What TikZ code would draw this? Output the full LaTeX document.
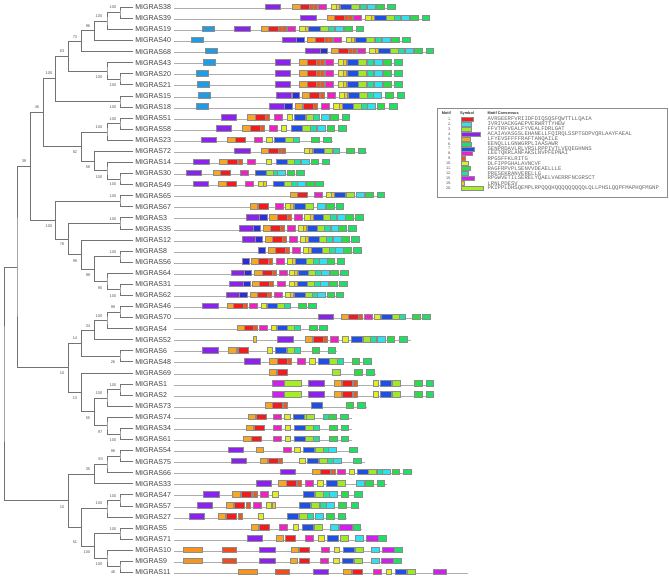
\documentclass[tikz,border=0pt]{standalone}
\usepackage{fontspec}
\setmainfont{Liberation Sans}
\newfontfamily\monof{Liberation Mono}
\usetikzlibrary{calc}
\definecolor{mca}{HTML}{8C22F0}
\definecolor{mcb}{HTML}{F7A823}
\definecolor{mcc}{HTML}{F21C1C}
\definecolor{mcd}{HTML}{EE5A1E}
\definecolor{mce}{HTML}{F21FC4}
\definecolor{mcf}{HTML}{E0EE22}
\definecolor{mcg}{HTML}{F0C81E}
\definecolor{mch}{HTML}{1E50E6}
\definecolor{mci}{HTML}{9FE82A}
\definecolor{mcj}{HTML}{22E0A0}
\definecolor{mck}{HTML}{30E2F0}
\definecolor{mcl}{HTML}{2ADB4A}
\definecolor{mcm}{HTML}{1EE064}
\definecolor{mcn}{HTML}{D020EE}
\definecolor{mco}{HTML}{A6EE22}
\definecolor{mcp}{HTML}{1E9CE6}
\definecolor{mcq}{HTML}{F7941E}
\definecolor{mcr}{HTML}{EE4E1E}
\definecolor{mcs}{HTML}{2B2BE0}
\def\mwa{15.5}\def\mwb{7.5}\def\mwc{10}\def\mwd{4}\def\mwe{8}\def\mwf{5.5}
\def\mwg{3}\def\mwh{11.3}\def\mwi{8}\def\mwj{6}\def\mwk{8}\def\mwl{7.7}
\def\mwm{7.7}\def\mwn{12.7}\def\mwo{17}\def\mwp{12}\def\mwq{19.3}\def\mwr{14.3}\def\mws{7.5}
\tikzset{
 tree/.style={draw=black!55, line width=0.55pt},
 leaf/.style={anchor=west, inner sep=1.5pt, text=black!75, font=\fontsize{5.3pt}{6pt}\selectfont},
 bs/.style={inner sep=0pt, text=black!65, font=\fontsize{3pt}{3.5pt}\selectfont},
 barline/.style={draw=black!32, line width=0.6pt},
 mbox/.style={draw=black!45, line width=0.3pt},
 legbox/.style={draw=black!45, line width=0.5pt},
 lhead/.style={anchor=west, inner sep=0pt, text=black!80, font=\fontsize{2.9pt}{3.2pt}\selectfont\bfseries},
 lnum/.style={anchor=east, inner sep=0pt, text=black!70, font=\fontsize{2.8pt}{3.2pt}\selectfont},
 lseq/.style={anchor=west, inner sep=0pt, text=black!60, font=\fontsize{4.2pt}{4.6pt}\selectfont\monof},
}
\newcommand\leaf[2]{\node[leaf] (L#2) at (133,{7.3+11.08*#1}) {MIGRAS#2};}
\newcommand\inode[4]{\path let \p1=(#3), \p2=(#4) in ({#2*0.75pt},{(\y1+\y2)/2}) coordinate (#1);
 \draw[tree] (#3) -| (#1) |- (#4);}
\newcommand\rowline[2]{\pgfmathsetmacro\ry{7.3+11.08*#1}\draw[barline] (174,\ry+1) -- (#2,\ry+1);}
\newcommand\boxes[3]{\pgfmathsetmacro\ry{7.3+11.08*#1}\foreach \xx/\cc in {#3}{\pgfmathsetmacro\bx{#2+\xx}\filldraw[mbox,fill=mc\cc] (\bx,\ry-3.5) rectangle ++(\csname mw\cc\endcsname,5.5);}}
\newcommand\tc[2]{\boxes{#1}{#2}{0/b,7.7/c,17.2/d,21.2/d,26/e,38.7/f,44.2/g,47.7/h,59.2/i,67.7/j,74.4/k,83.7/l,95/m}}
\begin{document}
\begin{tikzpicture}[x=0.75pt,y=-0.75pt]
\useasboundingbox (0,0) rectangle (669,579);
% leaves
\leaf{0}{38}\leaf{1}{39}\leaf{2}{19}\leaf{3}{40}\leaf{4}{68}\leaf{5}{43}\leaf{6}{20}\leaf{7}{21}
\leaf{8}{15}\leaf{9}{18}\leaf{10}{51}\leaf{11}{58}\leaf{12}{23}\leaf{13}{72}\leaf{14}{14}\leaf{15}{30}
\leaf{16}{49}\leaf{17}{65}\leaf{18}{67}\leaf{19}{3}\leaf{20}{35}\leaf{21}{12}\leaf{22}{8}\leaf{23}{56}
\leaf{24}{64}\leaf{25}{31}\leaf{26}{62}\leaf{27}{46}\leaf{28}{70}\leaf{29}{4}\leaf{30}{52}\leaf{31}{6}
\leaf{32}{48}\leaf{33}{69}\leaf{34}{1}\leaf{35}{2}\leaf{36}{73}\leaf{37}{74}\leaf{38}{34}\leaf{39}{61}
\leaf{40}{54}\leaf{41}{75}\leaf{42}{66}\leaf{43}{33}\leaf{44}{47}\leaf{45}{57}\leaf{46}{27}\leaf{47}{5}
\leaf{48}{71}\leaf{49}{10}\leaf{50}{9}\leaf{51}{11}
% tree
\inode{n1}{120}{L38.west}{L39.west}
\inode{n2}{107}{n1}{L19.west}
\inode{n3}{94.3}{n2}{L40.west}
\inode{n4}{81.7}{n3}{L68.west}
\inode{n5}{120}{L20.west}{L21.west}
\inode{n6}{107}{L43.west}{n5}
\inode{n7}{68.3}{n4}{n6}
\inode{n8}{120}{L15.west}{L18.west}
\inode{n9}{55.7}{n7}{n8}
\inode{n10}{120}{L51.west}{L58.west}
\inode{n11}{107}{n10}{L23.west}
\inode{n12}{120}{L30.west}{L49.west}
\inode{n13}{107}{L14.west}{n12}
\inode{n14}{94.3}{L72.west}{n13}
\inode{n15}{81.7}{n11}{n14}
\inode{n16}{43.3}{n9}{n15}
\inode{n17}{120}{L65.west}{L67.west}
\inode{n18}{120}{L3.west}{L35.west}
\inode{n19}{120}{L8.west}{L56.west}
\inode{n20}{120}{L31.west}{L62.west}
\inode{n21}{107}{L64.west}{n20}
\inode{n22}{94.3}{n19}{n21}
\inode{n23}{81.7}{L12.west}{n22}
\inode{n24}{68.3}{n18}{n23}
\inode{n25}{55.7}{n17}{n24}
\inode{n26}{30.7}{n16}{n25}
\inode{n27}{120}{L46.west}{L70.west}
\inode{n28}{107}{n27}{L4.west}
\inode{n29}{94.3}{n28}{L52.west}
\inode{n30}{120}{L6.west}{L48.west}
\inode{n31}{81.7}{n29}{n30}
\inode{n32}{120}{L1.west}{L2.west}
\inode{n33}{107}{n32}{L73.west}
\inode{n34}{120}{L34.west}{L61.west}
\inode{n35}{107}{L74.west}{n34}
\inode{n36}{94.3}{n33}{n35}
\inode{n37}{81.7}{L69.west}{n36}
\inode{n38}{68.3}{n31}{n37}
\inode{n39}{17}{n26}{n38}
\inode{n40}{120}{L54.west}{L75.west}
\inode{n41}{107}{n40}{L66.west}
\inode{n42}{94.3}{n41}{L33.west}
\inode{n43}{120}{L47.west}{L57.west}
\inode{n44}{107}{n43}{L27.west}
\inode{n45}{120}{L5.west}{L71.west}
\inode{n46}{120}{L9.west}{L11.west}
\inode{n47}{107}{L10.west}{n46}
\inode{n48}{94.3}{n45}{n47}
\inode{n49}{81.7}{n44}{n48}
\inode{n50}{68.3}{n42}{n49}
\inode{root}{4}{n39}{n50}
% bootstrap values
\foreach \nm/\px/\py/\v in {b1/113/7/100,b2/99/16/100,b3/88/26/96,b4/75/37/73,b5/113/85/100,b6/99/77/100,
 b7/62/51/83,b8/113/107/100,b9/49/73/100,b10/113/119/100,b11/99/127/100,b12/113/184/100,b13/99/177/100,
 b14/88/167/58,b15/75/152/82,b16/37/107/45,b17/113/196/100,b18/113/218.7/100,b19/113/252/100,
 b20/113/295.7/100,b21/100/287.7/90,b22/88/275/99,b23/75/260.7/99,b24/62/244/76,b25/49/225.7/100,
 b26/24/161/39,b27/113/307/99,b28/99/315.7/100,b29/88/325.7/34,b30/113/362.3/26,b31/75/338.3/14,
 b32/113/385/100,b33/99/393.3/100,b34/113/440/100,b35/100/432.3/97,b36/88/417.7/55,b37/75/398.3/13,
 b38/62/372.7/10,b40/113/451/98,b41/100.7/459.3/93,b42/88/469.3/35,b43/113/495.7/100,b44/99/503.3/100,
 b45/113/529/100,b46/113/572.3/48,b47/99/564.3/100,b48/87/552.3/100,b49/75/542.3/51,b50/62/506.7/10}
 {\node[bs] (\nm) at (\px,\py) {\v};}
% motif rows
\rowline{0}{395}\boxes{0}{0}{265/a}\tc{0}{292.3}
\rowline{1}{430}\boxes{1}{0}{300.3/a}\tc{1}{326.7}
\rowline{2}{363.5}\boxes{2}{0}{201.7/p,234.3/a}\tc{2}{260.7}
\rowline{3}{410}\boxes{3}{0}{190.7/p,281.7/a,296.3/s}\tc{3}{307.3}
\rowline{4}{433}\boxes{4}{0}{205/p,305/a,320/s}\tc{4}{330.7}
\rowline{5}{402.5}\boxes{5}{0}{203.3/p,275/a}\tc{5}{299.3}
\rowline{6}{402.5}\boxes{6}{0}{195.7/p,275/a}\tc{6}{299.3}
\rowline{7}{402.5}\boxes{7}{0}{196.7/p,275/a}\tc{7}{299.3}
\rowline{8}{404.5}\boxes{8}{0}{197.7/p,276/a,291.7/s,302.3/b,309.3/c,320/d,327.3/e,338.7/f,344.5/g,348.3/h,359.6/i,367.6/j,373.6/k,385/l,396.7/m}
\rowline{9}{397}\boxes{9}{0}{196/p,269.3/a,284.3/s,295/b,303.3/c,313.3/d,320.7/e,333.3/f,338.8/g,342.3/h,353.6/i,361.6/j,367.6/k,376.7/l,389.3/m}
\rowline{10}{349.5}\boxes{10}{0}{220.7/a,247.3/b,255/c,265/d,274.3/e,286.7/f,294.3/h,306/i,313.3/j,320.7/k,330/l,341.7/m}
\rowline{11}{346}\boxes{11}{0}{215.7/a,242.3/b,250/c,260/d,269/e,281/f,290.7/h,302/i,310/j,316.7/k,326.7/l,338.3/m}
\rowline{12}{333}\boxes{12}{0}{200.7/a,227.3/b,235/c,254/e,266.3/f,273.7/h,285/i,292.7/j,311/l,323.3/m}
\rowline{13}{367}\boxes{13}{0}{234.3/a,260.7/b,268.3/c,278.3/d,281/d,304.3/f,309.5/g,312.7/h,324/i,333.3/j,346/l,357.7/m}
\rowline{14}{330}\boxes{14}{0}{193.3/a,219.3/b,227.3/c,238.3/d,247/e,266/f,275.7/h,287/i,294/j,300.7/k,310.7/l,321.7/m}
\rowline{15}{304}\boxes{15}{0}{185.7/a,212.7/b,220/c,240/e,255/h,266.3/i,272.7/j,277.3/k,286.7/l,296/m}
\rowline{16}{323}\boxes{16}{0}{192.7/a,218.3/b,226/c,245/e,257.7/f,263.3/g,272.7/h,284/i,290.7/j,296.7/k,306/l,315.3/m}
\rowline{17}{385}\boxes{17}{0}{290/b,297.3/c,314.3/e,326/f,331.5/g,334.3/h,345.7/i,355.7/k,365/l,376.7/m}
\rowline{18}{344}\boxes{18}{0}{250/b,258.3/c,275/e,285/f,290/g,294/h,305/i,317.3/k,326/l,335.7/m}
\rowline{19}{363}\boxes{19}{0}{246/a,259.3/s,269.3/b,276.7/c,286.7/d,294/e,304.3/f,309.8/g,312.7/h,323.3/i,330/j,336.7/k,345/l,355/m}
\rowline{20}{356.5}\boxes{20}{0}{239.3/a,252.7/s,262.7/b,270/c,280/d,287.3/e,298.3/f,303.5/g,306.7/h,317.3/i,324/j,330.7/k,338.3/l,348.3/m}
\rowline{21}{359}\boxes{21}{0}{241.7/a,255/s,265/b,272.3/c,282.3/d,289.3/e,300/f,305/g,308.3/h,319.3/i,326/j,332.7/k,341/l,351/m}
\rowline{22}{361.5}\boxes{22}{0}{257.7/s,267.7/b,275/c,285/d,292.3/e,302.7/f,307.7/g,311/h,322/i,328.7/j,335.3/k,343.3/l,353.3/m}
\rowline{23}{345}\boxes{23}{0}{241.7/s,251/b,258.3/c,268.3/d,276/e,286.7/f,291.7/g,295/h,306/i,312.7/j,319.3/k,326.7/l,336.7/m}
\rowline{24}{348}\boxes{24}{0}{230.7/a,244/s,254.3/b,261.7/c,271.7/d,279/e,289.3/f,294.3/g,297.7/h,308.3/i,315/j,320.7/k,330/l,340/m}
\rowline{25}{347}\boxes{25}{0}{229.3/a,242.7/s,252.3/b,259.3/c,269.3/d,277.3/e,289/f,294/g,296.7/h,307.3/i,314/j,320/k,329.3/l,339.3/m}
\rowline{26}{344}\boxes{26}{0}{226/a,239.3/s,250/b,257.3/c,267.3/d,274.3/e,285.3/f,290.3/g,294/h,305/i,311.7/j,317.3/k,326.7/l,335.7/m}
\rowline{27}{317}\boxes{27}{0}{202.3/a,226.7/b,233.3/c,243.3/d,249.3/e,260.7/f,266.7/h,277.3/i,284.3/j,298.3/l,308.3/m}
\rowline{28}{431}\boxes{28}{0}{317.7/a,341/b,348.3/c,358.3/d,364/e,374.3/f,381/h,392.3/i,399/j,412.3/l,422.3/m}
\rowline{29}{327.5}\boxes{29}{0}{236.7/b,244/c,253.3/d,259.3/e,270.7/f,277.3/h,287.3/i,294/j,309.3/l,319.3/m}
\rowline{30}{411}\boxes{30}{0}{253.3/g,277.3/a,305/b,312.7/c,323.3/d,330/e,342.3/f,351/h,362.7/i,370/j,376.7/k,386.7/l,399.3/m}
\rowline{31}{337}\boxes{31}{0}{202.3/a,228.3/b,236.7/c,238.5/c,266.7/f,275/h,286.7/i,294/j,311.7/l,327.7/m}
\rowline{32}{372}\boxes{32}{0}{244.3/a,269.3/b,277.3/c,287.3/d,297.3/e,309.3/f,317.7/h,329/i,336.7/j,351.7/l,363.3/m}
\rowline{33}{376}\boxes{33}{0}{269/b,277.3/c,331.7/i,354.3/l,366/m}
\rowline{34}{434}\boxes{34}{0}{271.7/n,284/o,308.3/a,334/b,341.7/c,352.7/d,372.7/f,380/h,391.7/i,414.3/l,425.7/m}
\rowline{35}{434}\boxes{35}{0}{271.7/n,284/o,308.3/a,334/b,341.7/c,352.7/d,372.7/f,380/h,391.7/i,414.3/l,425.7/m}
\rowline{36}{366.5}\boxes{36}{0}{265/b,272.3/c,283.3/d,310.7/h,345.7/l,357.3/m}
\rowline{37}{351.7}\boxes{37}{0}{247.7/b,255.7/c,273.3/e,284.3/f,292.7/h,304/i,306/i,322.7/j,328.5/l,340/m}
\rowline{38}{351.7}\boxes{38}{0}{246/b,254.3/c,273.3/e,285/f,294/h,305/i,313.3/j,329/l,340.7/m}
\rowline{39}{351.7}\boxes{39}{0}{243.3/b,251/c,272.7/e,285/f,294/h,305/i,313.3/j,329.3/l,340.7/m}
\rowline{40}{358.3}\boxes{40}{0}{227.7/a,256/b,283.3/e,294.3/f,303.3/h,315/i,322.7/j,328.3/k,349.3/m}
\rowline{41}{365}\boxes{41}{0}{231/a,260/b,267.7/c,278.3/d,299.3/f,307.3/h,319/i,326.7/j,333.3/k,353.3/m}
\rowline{42}{411.7}\boxes{42}{0}{280/a,312.3/b,320/c,330.7/d,336.7/e,349/f,356.7/h,368.3/i,376.7/j,381.7/k,391.7/l,403.3/m}
\rowline{43}{386.7}\boxes{43}{0}{255.7/a,278.3/b,286/c,296.7/d,305/e,317.3/f,325.7/h,336.7/i,355.7/k,365/l,376.7/m}
\rowline{44}{363}\boxes{44}{0}{203.3/a,232.3/b,240.7/c,251.7/d,253.5/d,260/e,272.3/f,302.7/h,315/i,323.3/j,329.3/k,340.7/l,354/m}
\rowline{45}{359}\boxes{45}{0}{196.7/a,225.7/b,234/c,246/d,252.7/e,265.7/f,271.7/g,299/h,311/i,320/j,326/k,338.3/l,350.7/m}
\rowline{46}{346.7}\boxes{46}{0}{189/a,217.7/b,225.7/c,237.7/d,257.7/f,287.3/h,299.3/i,307.5/j,315/k,326/l,337.7/m}
\rowline{47}{362}\boxes{47}{0}{251/b,259.3/c,279.3/e,292.7/f,301.7/h,314/i,330/k,339/n,352.7/m}
\rowline{48}{387.3}\boxes{48}{0}{246.7/a,276/b,285/c,305/e,318.3/f,327.3/h,340/i,355/k,365.7/n,378.3/m}
\rowline{49}{403.3}\boxes{49}{0}{183.3/q,221.7/r,259.3/a,290.7/b,299.3/c,320.7/e,334/f,342.7/h,355/i,371/k,381.7/n,394.3/m}
\rowline{50}{402.3}\boxes{50}{0}{183.3/q,221.7/r,259.3/a,290/b,298.7/c,320/e,333.3/f,342.3/h,354.3/i,370.7/k,380.7/n,393.3/m}
\rowline{51}{468}\boxes{51}{0}{238.3/q,275/r,312.7/a,343.3/b,351.7/c,373.3/e,386/f,395/h,407.3/i,433.3/n}
% legend
\draw[legbox] (437,108) rectangle (667,197);
\node[lhead] (h1) at (441.5,113) {Motif};
\node[lhead] (h2) at (459.8,113) {Symbol};
\node[lhead] (h3) at (487.3,113) {Motif Consensus};
\foreach \k/\m/\cc/\w/\s in {
 0/1/c/12.7/AVRGEERFVRIIDFDIQSQSFQWTTLLQAIA,
 1/2/k/10/IVRIVACKGAEPVERWRTTYHEW,
 2/3/i/10/FFVTRFVEALFYVEALFDRLGAT,
 3/4/a/19.3/ACAIAVASGSLEHANELLFQIRQLSSPTGDPVQRLAAYFAEAL,
 4/5/b/9.3/LFYEVSFFFFRAFTANQAILE,
 5/6/m/10/EENQLLLGNWGRPLIAASAWR,
 6/7/h/13.3/SENPRDAVLRLVRSLRPPIVTLVEQEGHNNS,
 7/8/e/11/LEETQKRLANFAKSLNVPFEPNAI,
 8/9/d/4.7/RPGSFFKLRITG,
 9/10/f/7/DLFIPPGHALAVNCVF,
 10/11/l/9.7/RAGFRPVPLSENVVDEAELLLE,
 11/12/j/7/PRESEKRANVERELLG,
 12/15/n/13.7/RPGWVETILSERELYQAELVAERRFNCGRSCT,
 13/19/g/3.7/LRNLPDESV,
 14/20/o/22/PKIPPLDHSQEMPLRPQQQHQQQQQQQQQLQLLPHSLQQPFMAPHQFMGNP}
{\pgfmathsetmacro\ly{119+4.95*\k}
 \node[lnum] (ln\k) at (451.5,\ly) {\m.};
 \filldraw[mbox,fill=mc\cc] (460.7,\ly-2) rectangle ++(\w,4);
 \node[lseq] (ls\k) at (487.3,\ly) {\s};}
\end{tikzpicture}
\end{document}
